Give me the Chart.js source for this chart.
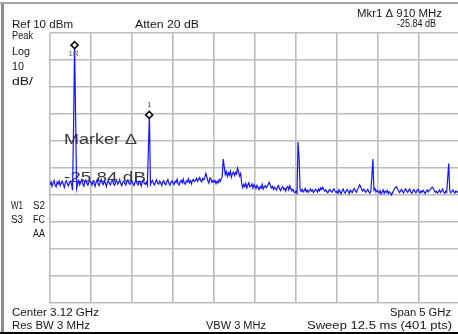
<!DOCTYPE html>
<html>
<head>
<meta charset="utf-8">
<script src="https://cdn.jsdelivr.net/npm/chart.js@4.4.1/dist/chart.umd.min.js"></script>
<style>
  html, body { margin: 0; padding: 0; background: #fff; overflow: hidden; width: 458px; height: 334px; }
  #wrap { position: relative; width: 470px; height: 334px; }
  canvas { display: block; }
</style>
</head>
<body>
<div id="wrap"><canvas id="sa" width="470" height="334" style="width:470px;height:334px"></canvas></div>
<script>
// Analyzer settings
const centerGHz = 3.12;
const spanGHz = 5;
const sweepPoints = 401;
const refLevelDbm = 10;
const dbPerDiv = 10;
const divisions = 10;

// Marker readout: reference marker 1R and delta marker 1
const refMarker = { freqGHz: 0.92, levelDbm: 5.5 };
const deltaMarker = { freqMHz: 910, levelDb: -25.84 };

// Trace levels (dBm), one per sweep point, left to right
const traceDbm = [
  -46.2,-45.1,-46.8,-45.5,-44.6,-46.3,-47.0,-45.2,-45.9,-44.8,-46.5,-45.6,-44.9,-46.1,-47.2,-45.4,-44.7,-45.8,-46.6,-45.3,
  -44.9,-46.0,-48.2,-24.4,5.5,-21.8,-47.6,-45.8,-44.6,-46.2,-45.1,-44.3,-45.9,-46.7,-45.0,-44.5,-45.7,-46.4,-45.2,-44.8,
  -45.4,-46.3,-44.9,-45.6,-46.8,-45.2,-44.4,-45.9,-46.5,-45.0,-44.2,-45.7,-46.1,-44.8,-45.5,-46.9,-45.3,-44.6,-45.8,-46.2,
  -45.0,-44.5,-45.9,-46.4,-45.1,-44.7,-46.0,-45.4,-44.3,-45.8,-46.6,-45.2,-44.9,-45.7,-46.3,-45.0,-44.4,-45.6,-46.1,-45.3,
  -44.8,-45.9,-46.5,-45.1,-44.6,-45.8,-46.2,-44.9,-45.4,-46.7,-45.3,-44.5,-45.7,-46.0,-45.2,-46.4,-32.8,-20.34,-46.1,-45.0,
  -44.6,-45.8,-46.3,-45.1,-44.4,-45.6,-46.0,-44.9,-45.5,-46.5,-45.2,-44.7,-45.9,-46.2,-45.0,-44.3,-45.7,-46.4,-45.3,-44.8,
  -45.6,-46.1,-44.9,-45.4,-44.2,-45.8,-46.3,-45.0,-44.6,-45.5,-44.1,-45.7,-46.0,-44.8,-45.2,-44.0,-45.4,-44.7,-45.9,-44.5,
  -44.3,-45.0,-44.6,-43.8,-44.9,-44.2,-43.5,-44.7,-45.1,-43.9,-44.4,-43.6,-42.0,-43.2,-44.8,-45.6,-43.7,-44.1,-45.3,-44.6,
  -45.2,-44.6,-45.8,-44.9,-45.5,-44.3,-45.1,-44.0,-43.2,-36.7,-39.6,-42.4,-41.3,-43.1,-41.8,-42.7,-41.2,-43.4,-42.0,-41.5,
  -42.8,-41.6,-42.3,-40.1,-41.4,-43.0,-42.1,-45.8,-47.3,-46.0,-46.9,-45.7,-47.4,-46.3,-45.5,-47.0,-46.6,-45.9,-47.5,-46.2,
  -46.8,-47.6,-46.4,-47.2,-48.0,-46.9,-47.5,-46.1,-47.8,-47.0,-46.5,-47.3,-46.7,-45.9,-45.3,-46.6,-47.4,-46.8,-47.9,-47.1,
  -47.6,-48.2,-47.0,-46.5,-47.8,-48.4,-47.3,-46.9,-48.0,-47.5,-48.6,-47.2,-46.8,-48.1,-46.6,-47.7,-48.5,-47.9,-48.8,-49.2,
  -48.6,-49.3,-30.4,-36.2,-48.1,-48.7,-47.9,-48.9,-48.3,-47.6,-48.8,-48.2,-49.0,-48.4,-47.8,-48.6,-48.1,-49.1,-48.5,-47.9,
  -48.3,-48.9,-47.8,-48.5,-47.4,-48.0,-47.2,-47.9,-48.6,-48.1,-48.8,-49.2,-48.4,-47.9,-48.7,-49.0,-48.2,-47.7,-48.5,-49.1,
  -48.6,-49.4,-48.0,-48.8,-49.6,-48.3,-47.8,-48.9,-49.3,-48.4,-47.9,-48.7,-49.5,-48.2,-48.8,-49.1,-48.0,-47.6,-48.5,-49.0,
  -48.1,-47.2,-46.2,-46.8,-47.9,-48.6,-47.8,-48.3,-49.0,-48.5,-47.9,-48.8,-49.3,-48.6,-43.3,-36.7,-48.2,-47.6,-48.9,-48.3,
  -48.7,-49.2,-48.4,-49.6,-48.9,-48.1,-49.4,-48.6,-49.0,-48.3,-49.5,-48.8,-49.1,-50.0,-49.3,-48.5,-47.8,-47.2,-46.9,-47.7,
  -48.4,-49.1,-48.6,-47.9,-48.8,-49.3,-48.2,-47.7,-48.5,-49.0,-48.3,-47.8,-48.9,-49.4,-48.6,-48.0,-48.8,-49.2,-48.4,-47.9,
  -48.7,-49.3,-48.5,-49.0,-48.2,-48.8,-49.5,-48.6,-48.1,-48.9,-48.3,-47.9,-47.4,-47.1,-47.6,-48.4,-49.0,-48.6,-49.3,-48.8,
  -48.2,-49.1,-48.5,-47.8,-48.9,-49.4,-48.6,-49.0,-43.7,-38.3,-48.4,-49.2,-48.7,-48.1,-48.9,-49.3,-48.5,-48.8,-49.1,-48.6,-48.9
];

// Screen annotations
const statusLeft = ['Peak', 'Log', '10', 'dB/'];
const statusFlags = [['W1', 'S2'], ['S3', 'FC'], ['', 'AA']];

// Derived sweep geometry
const startGHz = centerGHz - spanGHz / 2;
const stopGHz = centerGHz + spanGHz / 2;
const stepGHz = spanGHz / (sweepPoints - 1);
const bottomDbm = refLevelDbm - dbPerDiv * divisions;
const xGrid = Array.from({ length: divisions + 1 }, (_, i) => startGHz + i * spanGHz / divisions);
const yGrid = Array.from({ length: divisions + 1 }, (_, i) => bottomDbm + i * dbPerDiv);

const tracePoints = traceDbm.map((v, i) => ({ x: startGHz + i * stepGHz, y: v }));
const deltaPos = {
  x: refMarker.freqGHz + deltaMarker.freqMHz / 1000,
  y: refMarker.levelDbm + deltaMarker.levelDb
};
const markerPoints = [{ x: refMarker.freqGHz, y: refMarker.levelDbm }, deltaPos];

const FONT = '"Liberation Sans", Arial, sans-serif';
function drawText(ctx, s, x, base, width, size, color) {
  ctx.save();
  ctx.font = size + 'px ' + FONT;
  ctx.fillStyle = color || '#161616';
  ctx.textBaseline = 'alphabetic';
  ctx.textAlign = 'left';
  const m = ctx.measureText(s).width;
  const k = width ? width / m : 1;
  ctx.translate(x, base);
  ctx.scale(k, 1);
  ctx.fillText(s, 0, 0);
  ctx.restore();
}

const screenText = {
  id: 'screenText',
  beforeDatasetsDraw(chart) {
    const ctx = chart.ctx;
    // big marker readout inside the graticule
    drawText(ctx, 'Marker \u0394', 64, 144, 73, 15.5, '#3a3a3a');
    drawText(ctx, deltaMarker.levelDb.toFixed(2) + ' dB', 64, 182, 82, 15.5, '#3a3a3a');
  },
  afterDraw(chart) {
    const ctx = chart.ctx;
    const xs = chart.scales.x, ys = chart.scales.y;

    // instrument frame
    ctx.save();
    ctx.fillStyle = '#8c8c8c';
    ctx.fillRect(1, 2, 3, 332);
    ctx.fillStyle = '#a6a6a6';
    ctx.fillRect(0, 2, 470, 2);
    ctx.fillStyle = '#000';
    ctx.fillRect(0, 332, 470, 2);
    ctx.restore();

    // header
    drawText(ctx, 'Mkr1 \u0394 ' + deltaMarker.freqMHz + ' MHz', 357, 17, 85, 10);
    drawText(ctx, deltaMarker.levelDb.toFixed(2) + ' dB', 397, 27, 39, 10);
    drawText(ctx, 'Ref ' + refLevelDbm + ' dBm', 12, 28, 61, 10);
    drawText(ctx, 'Atten 20 dB', 135, 28, 64, 10);

    // left status column
    drawText(ctx, statusLeft[0], 12, 39, 21, 10);
    drawText(ctx, statusLeft[1], 12, 55, 18, 10);
    drawText(ctx, statusLeft[2], 12, 70, 12, 10);
    drawText(ctx, statusLeft[3], 12, 85, 21, 10);
    const flagBase = [209, 223, 237];
    statusFlags.forEach((row, i) => {
      if (row[0]) drawText(ctx, row[0], 11, flagBase[i], 12, 10);
      if (row[1]) drawText(ctx, row[1], 33, flagBase[i], 12, 10);
    });

    // footer
    drawText(ctx, 'Center ' + centerGHz.toFixed(2) + ' GHz', 12, 316, 87, 10);
    drawText(ctx, 'Span ' + spanGHz + ' GHz', 390, 316, 61, 10);
    drawText(ctx, 'Res BW 3 MHz', 12, 329, 78, 10);
    drawText(ctx, 'VBW 3 MHz', 206, 329, 60, 10);
    drawText(ctx, 'Sweep 12.5 ms (' + sweepPoints + ' pts)', 307, 329, 145, 10);

    // marker tags
    const rx = xs.getPixelForValue(refMarker.freqGHz), ry = ys.getPixelForValue(refMarker.levelDbm);
    const dx = xs.getPixelForValue(deltaPos.x), dy = ys.getPixelForValue(deltaPos.y);
    drawText(ctx, '1R', rx - 6, ry + 11, 10, 6.5, '#555');
    drawText(ctx, '1', dx - 2, dy - 8, 4, 7, '#333');
  }
};

const gridOpts = (ticks) => ({
  afterBuildTicks: (s) => { s.ticks = ticks.map(v => ({ value: v })); },
  ticks: { display: false },
  grid: { color: '#bcbcbc', lineWidth: 1.6, drawTicks: false },
  border: { display: false }
});

new Chart(document.getElementById('sa'), {
  type: 'line',
  data: {
    datasets: [
      {
        data: tracePoints,
        borderColor: '#1414ff',
        borderWidth: 1.2,
        pointRadius: 0,
        tension: 0,
        fill: false,
        order: 2
      },
      {
        type: 'scatter',
        data: markerPoints,
        pointStyle: 'rectRot',
        pointRadius: 3.5,
        borderColor: '#111',
        borderWidth: 1.6,
        backgroundColor: '#fff',
        clip: false,
        order: 1
      }
    ]
  },
  options: {
    responsive: false,
    animation: false,
    devicePixelRatio: 1,
    events: [],
    layout: { padding: { left: 50, top: 33, right: 10, bottom: 31 } },
    plugins: { legend: { display: false }, tooltip: { enabled: false } },
    scales: {
      x: Object.assign({ type: 'linear', min: startGHz, max: stopGHz }, gridOpts(xGrid)),
      y: Object.assign({ type: 'linear', min: bottomDbm, max: refLevelDbm }, gridOpts(yGrid))
    }
  },
  plugins: [screenText]
});
</script>
</body>
</html>
